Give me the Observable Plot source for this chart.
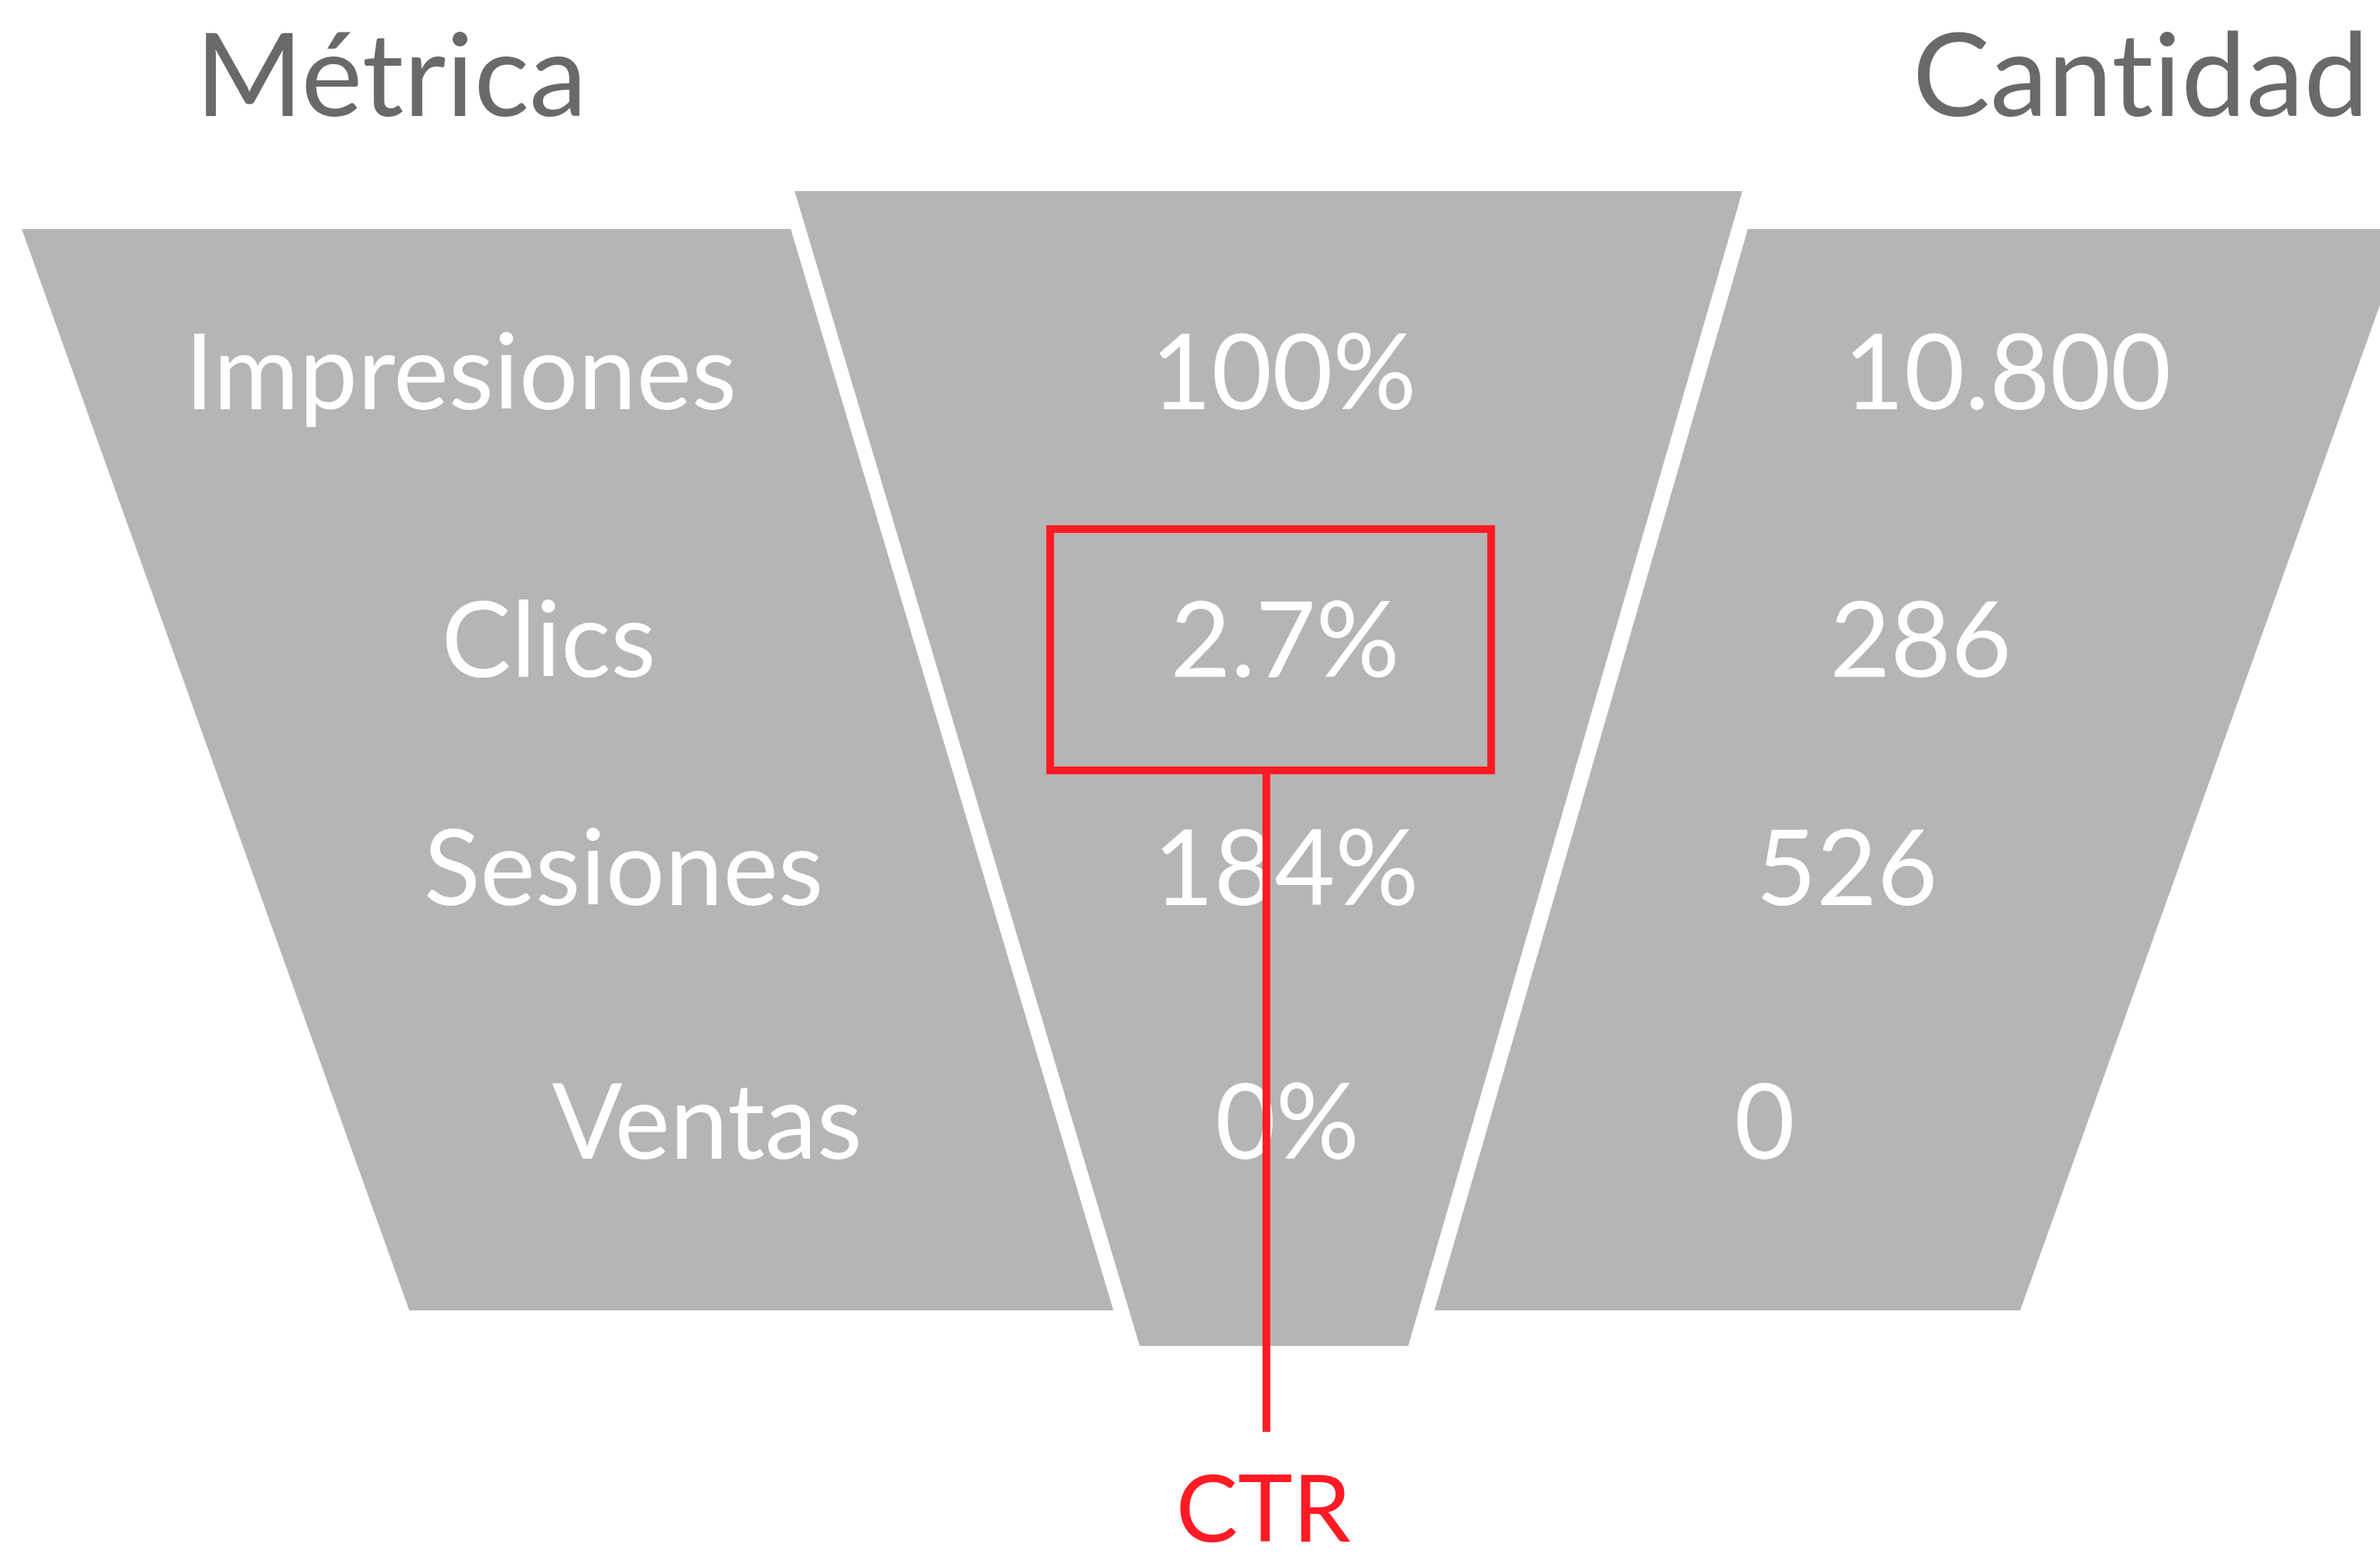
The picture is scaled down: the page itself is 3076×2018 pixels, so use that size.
<!DOCTYPE html>
<html>
<head>
<meta charset="utf-8">
<script src="https://cdn.jsdelivr.net/npm/d3@7"></script>
<script src="https://cdn.jsdelivr.net/npm/@observablehq/plot@0.6"></script>
<style>
  html, body { margin: 0; padding: 0; background: #ffffff; overflow: hidden; }
  #chart svg { display: block; }
  #chart svg text { font-variant-ligatures: none; font-feature-settings: "liga" 0, "clig" 0, "dlig" 0; }
</style>
</head>
<body>
<div id="chart"></div>
<script>
// ---------- DATA ----------
const stages  = ["Impresiones", "Clics", "Sesiones", "Ventas"];
const rates   = ["100%", "2.7%", "184%", "0%"];
const counts  = [10800, 286, 526, 0];
const headers = ["Métrica", "Cantidad"];
const highlightStage = "Clics";
const highlightLabel = "CTR";

// ---------- LAYOUT (stage units on y, pixels on x) ----------
const W = 3076, H = 2018;
const GRAY = "#b5b5b5", TITLE = "#696969", RED = "#ff1a24";
const rowRange = [485, 831, 1126, 1454];           // vertical position of the four stages
const stageY = d3.scaleLinear().domain([0, 1, 2, 3]).range(rowRange); // piecewise stage -> pixel

const columns = [
  {name: "metric", top: -0.546, bottom: 3.732, tl: 28,   tr: 1022, bl: 529,  br: 1439},
  {name: "rate",   top: -0.688, bottom: 3.872, tl: 1027, tr: 2252, bl: 1473, br: 1820},
  {name: "count",  top: -0.546, bottom: 3.732, tl: 2259, tr: 3111, bl: 1854, br: 2611}
];
const edge = (c, y, side) => {
  const t = (stageY(y) - stageY(c.top)) / (stageY(c.bottom) - stageY(c.top));
  return side === "l" ? c.tl + t * (c.bl - c.tl) : c.tr + t * (c.br - c.tr);
};
const center = (c, y) => (edge(c, y, "l") + edge(c, y, "r")) / 2;

const fmtEs = d3.formatLocale({decimal: ",", thousands: ".", grouping: [3], currency: ["", "€"]}).format(",d");

const rows = stages.map((s, i) => ({stage: s, i, rate: rates[i], count: fmtEs(counts[i])}));

const shapes = columns.flatMap(c => [
  {col: c.name, y: c.top,    x1: c.tl, x2: c.tr},
  {col: c.name, y: c.bottom, x1: c.bl, x2: c.br}
]);

const hi = stages.indexOf(highlightStage);
const mid = columns[1];
const boxHalfW = 285;
const box = [{x1: center(mid, hi) - boxHalfW, x2: center(mid, hi) + boxHalfW, y1: hi - 0.425, y2: hi + 0.559}];
const leader = [{x: center(mid, hi) - 6, y1: hi + 0.559, y2: 4.21}];

const FS = 135;
const Y = f => d => stageY(typeof f === "function" ? f(d) : f);

const chart = Plot.plot({
  width: W,
  height: H,
  margin: 0,
  x: {domain: [0, W], range: [0, W], axis: null},
  y: {domain: [0, H], range: [0, H], axis: null},
  style: {fontFamily: "Lato, 'Open Sans', sans-serif", background: "#ffffff"},
  marks: [
    Plot.areaX(shapes, {x1: "x1", x2: "x2", y: Y(d => d.y), z: "col", fill: GRAY, curve: "linear", clip: true}),
    // headers
    Plot.text([headers[0]], {x: center(columns[0], columns[0].top) - 20, y: Y(-1.107), text: d => d, fill: TITLE, fontSize: 150, textAnchor: "middle"}),
    Plot.text([headers[1]], {frameAnchor: "right", dx: -15, y: Y(-1.107), text: d => d, fill: TITLE, fontSize: 150, textAnchor: "end"}),
    // row labels
    Plot.text(rows, {x: d => center(columns[0], d.i) + 8, y: Y(d => d.i), text: "stage", fill: "white", fontSize: FS, textAnchor: "middle"}),
    Plot.text(rows, {x: d => center(columns[1], d.i) + 18, y: Y(d => d.i), text: "rate", fill: "white", fontSize: FS, textAnchor: "middle"}),
    Plot.text(rows, {x: d => center(columns[2], d.i) - 30, y: Y(d => d.i), text: "count", fill: "white", fontSize: FS, textAnchor: "middle"}),
    // highlight
    Plot.rect(box, {x1: "x1", x2: "x2", y1: Y(d => d.y1), y2: Y(d => d.y2), fill: "none", stroke: RED, strokeWidth: 10}),
    Plot.ruleX(leader, {x: "x", y1: Y(d => d.y1), y2: Y(d => d.y2), stroke: RED, strokeWidth: 10}),
    Plot.text([highlightLabel], {x: center(mid, hi) - 10, y: Y(4.524), text: d => d, fill: RED, fontSize: 120, textAnchor: "middle"})
  ]
});
document.getElementById("chart").appendChild(chart);
</script>
</body>
</html>
